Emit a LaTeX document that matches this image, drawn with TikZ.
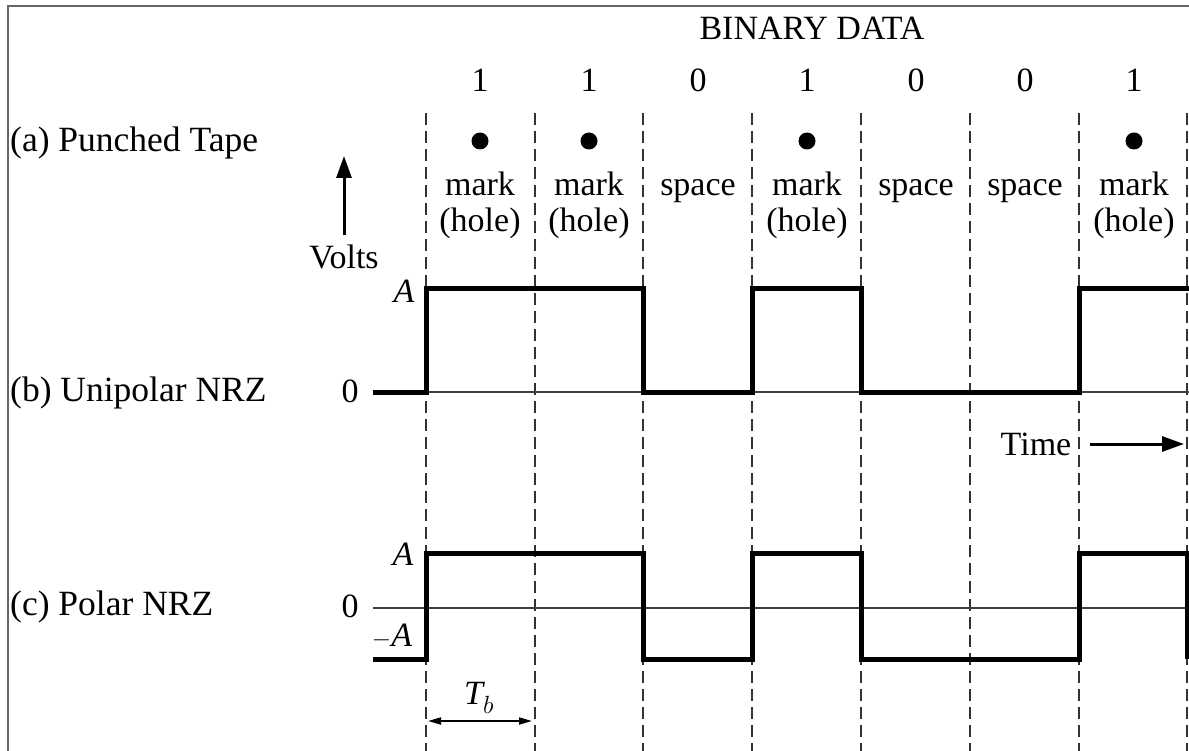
\documentclass[tikz,border=0pt]{standalone}
\usepackage{fontspec}
\setmainfont{Liberation Serif}
\usetikzlibrary{arrows.meta}
\begin{document}
\begin{tikzpicture}[x=1pt,y=-1pt,
  txt/.style={font=\fontsize{34}{40}\selectfont, inner sep=0pt},
  btxt/.style={font=\fontsize{34}{40}\selectfont, inner sep=0pt, anchor=base},
  itxt/.style={font=\fontsize{34}{40}\selectfont\itshape, inner sep=0pt},
  lbl/.style={font=\fontsize{35.5}{40}\selectfont, inner sep=0pt, anchor=west},
  grid/.style={dashed, dash pattern=on 12pt off 6pt, line width=1.8pt, black!80},
  axis/.style={line width=1.6pt, black!75},
  wave/.style={line width=5pt, line join=miter, black},
  bigarrow/.style={line width=3pt, -{Triangle[length=22pt,width=15pt]}},
  tbarrow/.style={line width=1.8pt, {Triangle[length=13pt,width=7pt]}-{Triangle[length=13pt,width=7pt]}},
  hole/.style={circle, fill=black, minimum size=17pt, inner sep=0pt}
]
\useasboundingbox (0,0) rectangle (1189,751);
% frame
\draw[line width=2pt, black!60] (8,751) -- (8,6) -- (1189,6);

% dashed bit boundaries
\foreach \i/\x in {0/426,1/535,2/643,3/752,4/861,5/970,6/1079,7/1187}{
  \coordinate (t\i) at (\x,113);
  \coordinate (b\i) at (\x,751);
  \draw[grid] (t\i) -- (b\i);
}

% title and bits
\node[btxt] (title) at (812,40) {BINARY DATA};
\foreach \i/\x/\v in {1/480/1,2/589/1,3/698/0,4/807/1,5/916/0,6/1025/0,7/1134/1}{
  \node[btxt] (bit\i) at (\x,92) {\v};
}
% holes and labels
\foreach \i/\x in {1/480,2/589,4/807,7/1134}{
  \node[hole] (dot\i) at (\x,141) {};
  \node[btxt] (mark\i) at (\x,196) {mark};
  \node[btxt] (hole\i) at (\x,232) {(hole)};
}
\foreach \i/\x in {3/698,5/916,6/1025}{
  \node[btxt] (space\i) at (\x,196) {space};
}

% left labels
\node[lbl] (la) at (10,143) {(a) Punched Tape};
\node[lbl] (lb) at (10,393) {(b) Unipolar NRZ};
\node[lbl] (lc) at (10,607) {(c) Polar NRZ};

% Volts arrow
\node[txt] (volts) at (344,257) {Volts};
\coordinate (vtip) at (344,156);
\draw[bigarrow] (344,235) -- (vtip);

% unipolar axis and labels
\node[txt] (u0) at (350,391) {0};
\node[itxt] (uA) at (404,291) {A};
\coordinate (ua0) at (373,392);
\coordinate (ua1) at (1189,392);
\draw[axis] (ua0) -- (ua1);
\draw[wave] (373,392) -- (426,392) -- (426,289) -- (643,289) -- (643,392)
  -- (752,392) -- (752,289) -- (861,289) -- (861,392) -- (1079,392)
  -- (1079,289) -- (1189,289);

% Time arrow
\node[txt] (time) at (1036,444) {Time};
\coordinate (tm0) at (1090,444);
\coordinate (tm1) at (1184,444);
\draw[bigarrow] (tm0) -- (tm1);

% polar axis and labels
\node[txt] (p0) at (350,606) {0};
\node[itxt] (pA) at (403,554) {A};
\node[itxt] (pmA) at (392,636) {$-$A};
\coordinate (pa0) at (373,608);
\coordinate (pa1) at (1189,608);
\draw[axis] (pa0) -- (pa1);
\draw[wave] (373,659) -- (426,659) -- (426,553) -- (643,553) -- (643,659)
  -- (752,659) -- (752,553) -- (861,553) -- (861,659) -- (1079,659)
  -- (1079,553) -- (1187,553) -- (1187,659);

% Tb
\node[itxt] (tb) at (479,698) {T$_b$};
\coordinate (tb0) at (428,721);
\coordinate (tb1) at (532,721);
\draw[tbarrow] (tb0) -- (tb1);
\end{tikzpicture}
\end{document}
